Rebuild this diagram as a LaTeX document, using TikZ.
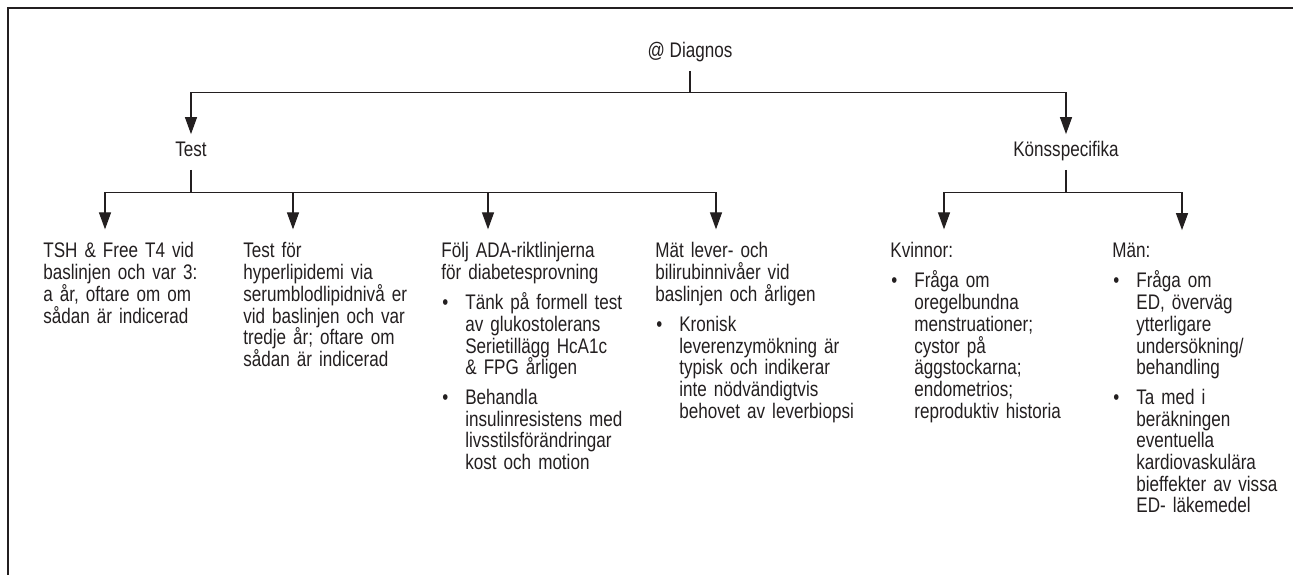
\documentclass[tikz,border=0pt]{standalone}
\usepackage{fontspec}
\setmainfont{Liberation Sans}[FakeStretch=0.81]
\usepackage{tikz}
\usetikzlibrary{arrows.meta}
\usetikzlibrary{calc}

\definecolor{ink}{RGB}{35,31,32}

% bullet line with hanging text
\newcommand{\bpoint}[1]{\par\vspace{4.7pt}\noindent\makebox[0.48cm][l]{\hspace{0.02cm}\textbullet}\parbox[t]{4cm}{#1}}

\begin{document}
\begin{tikzpicture}[
		every node/.style={font=\fontsize{12}{12.35}\selectfont, text=ink},
		head/.style={anchor=base, inner xsep=0pt, inner ysep=0.15cm, text height=0.3cm, text depth=0.1cm},
		block/.style={anchor=base west, align=left, text width=4.6cm, inner xsep=0pt, inner ysep=0.26cm},
		link/.style={draw=ink, line width=0.7pt},
		arr/.style={link, -{Triangle[length=0.34cm, width=0.24cm]}}
	]
		\useasboundingbox (0,0) rectangle (25.86,11.5);
		\draw[ink, line width=1pt] (0.16,0) -- (0.16,11.34) -- (25.86,11.34);
		
		\node[head] (diag) at (13.8,10.34) {@ Diagnos};
		\node[head] (test) at (3.82,8.36) {Test};
		\node[head] (kons) at (21.32,8.36) {Könsspecifika};
		
		\node[block] (tsh) at (0.86,6.34) {TSH \& Free T4 vid\\baslinjen och var 3:\\a år, oftare om om\\sådan är indicerad};
		\node[block] (lip) at (4.86,6.34) {Test för\\hyperlipidemi via\\serumblodlipidnivå er\\vid baslinjen och var\\tredje år; oftare om\\sådan är indicerad};
		\node[block] (ada) at (8.82,6.34) {Följ ADA-riktlinjerna\\för diabetesprovning
			\bpoint{Tänk på formell test\\av glukostolerans\\Serietillägg HcA1c\\\& FPG årligen}
			\bpoint{Behandla\\insulinresistens med\\livsstilsförändringar\\kost och motion}};
		\node[block] (lev) at (13.1,6.34) {Mät lever- och\\bilirubinnivåer vid\\baslinjen och årligen
			\bpoint{Kronisk\\leverenzymökning är\\typisk och indikerar\\inte nödvändigtvis\\behovet av leverbiopsi}};
		\node[block] (kvin) at (17.8,6.34) {Kvinnor:
			\bpoint{Fråga om\\oregelbundna\\menstruationer;\\cystor på\\äggstockarna;\\endometrios;\\reproduktiv historia}};
		\node[block] (man) at (22.24,6.34) {Män:
			\bpoint{Fråga om\\ED, överväg\\ytterligare\\undersökning/\\behandling}
			\bpoint{Ta med i\\beräkningen\\eventuella\\kardiovaskulära\\bieffekter av vissa\\ED- läkemedel}};
		
		\draw[link] (diag.south) -- ++(0,-0.43) coordinate (topbus);
		\draw[arr] (topbus) -| (test.north);
		\draw[arr] (topbus) -| (kons.north);
		
		\draw[link] (test.south) -- ++(0,-0.45) coordinate (testbus);
		\draw[arr] (testbus) -| ([xshift=1.24cm]tsh.north west);
		\draw[arr] (testbus) -| ([xshift=1.0cm]lip.north west);
		\draw[arr] (testbus) -| ([xshift=0.94cm]ada.north west);
		\draw[arr] (testbus) -| ([xshift=1.22cm]lev.north west);
		
		\draw[link] (kons.south) -- ++(0,-0.45) coordinate (konsbus);
		\draw[arr] (konsbus) -| ([xshift=1.08cm]kvin.north west);
		\draw[arr] (konsbus) -| ([xshift=1.4cm]man.north west);
	\end{tikzpicture}
\end{document}
